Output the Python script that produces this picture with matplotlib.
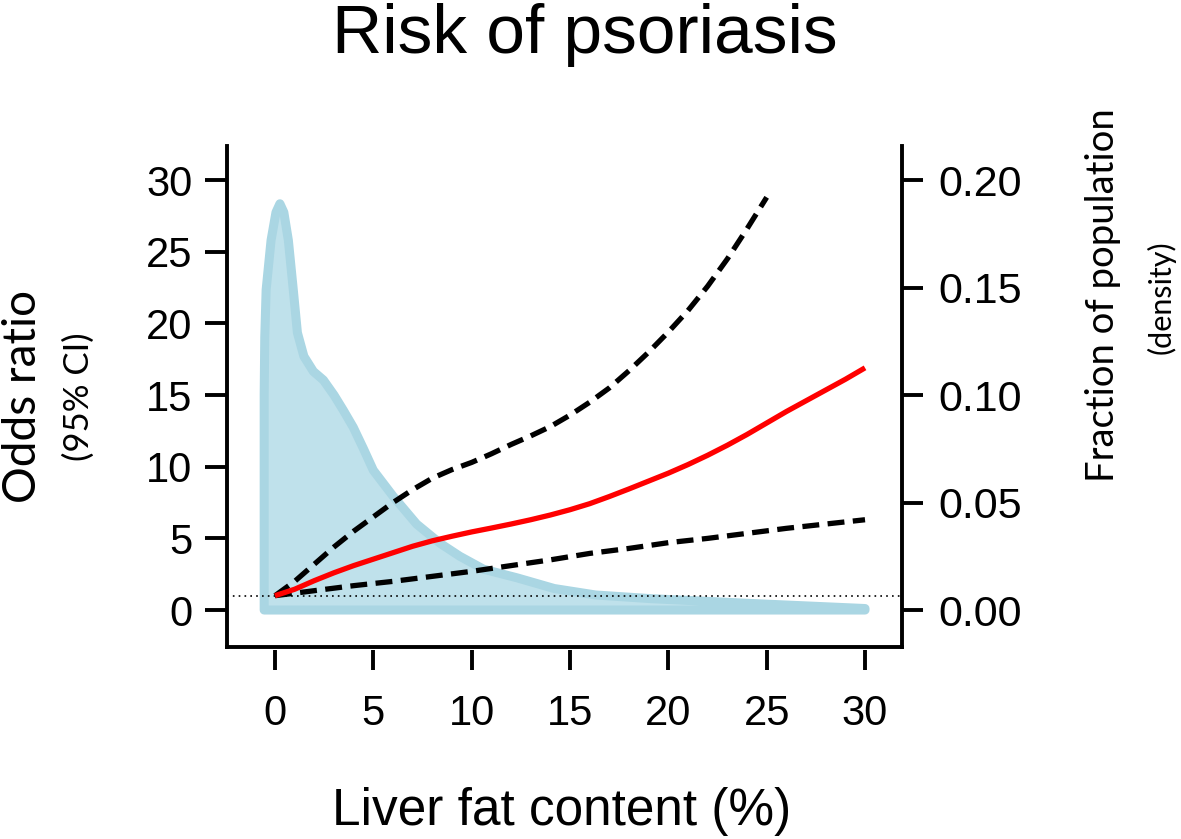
import matplotlib
matplotlib.use("Agg")
import matplotlib.pyplot as plt
import matplotlib.transforms as mtransforms

# liver fat content (%) grid for the fitted curves
x_fit = [0, 1, 2, 3, 4, 5, 6, 7, 8, 9, 10, 11, 12, 13, 14, 15, 16, 17, 18, 19,
         20, 21, 22, 23, 24, 25, 26, 27, 28, 29, 30]
or_est = [1.0, 1.45, 2.05, 2.6, 3.1, 3.55, 4.0, 4.45, 4.83, 5.15, 5.45, 5.72,
          6.0, 6.3, 6.63, 7.0, 7.42, 7.92, 8.45, 9.0, 9.55, 10.15, 10.8, 11.5,
          12.25, 13.05, 13.85, 14.6, 15.35, 16.1, 16.9]

x_upper = [0, 1, 2, 3, 4, 5, 6, 7, 8, 9, 10, 11, 12, 13, 14, 15, 16, 17, 18,
           19, 20, 21, 22, 23, 24, 25]
or_upper = [1.0, 2.0, 3.2, 4.4, 5.5, 6.5, 7.5, 8.4, 9.2, 9.8, 10.3, 10.9, 11.55,
            12.15, 12.8, 13.6, 14.5, 15.5, 16.7, 18.0, 19.4, 20.9, 22.6, 24.5,
            26.6, 28.8]

x_lower = [0, 2, 4, 6, 8, 10, 12, 14, 16, 18, 20, 22, 24, 26, 28, 30]
or_lower = [1.0, 1.35, 1.7, 2.0, 2.35, 2.7, 3.1, 3.5, 3.95, 4.3, 4.7, 5.0, 5.35,
            5.7, 6.0, 6.3]

# population density of liver fat
x_dens = [-0.55, -0.55, -0.52, -0.45, -0.2, 0.05, 0.25, 0.45, 0.68, 0.93, 1.14,
          1.47, 1.95, 2.46, 3.0, 3.47, 3.98, 4.5, 5.0, 6.0, 7.2, 8.4, 9.4, 10.6,
          12.3, 14.2, 16.3, 19.1, 24.1, 30.0, 30.0]
dens = [0.0, 0.100, 0.127, 0.149, 0.172, 0.185, 0.189, 0.185, 0.172, 0.149,
        0.129, 0.118, 0.111, 0.107, 0.100, 0.093, 0.085, 0.075, 0.065, 0.053,
        0.040, 0.031, 0.025, 0.019, 0.015, 0.010, 0.007, 0.0053, 0.0031,
        0.0007, 0.0]

or_ticks = [0, 5, 10, 15, 20, 25, 30]
dens_ticks = [0.00, 0.05, 0.10, 0.15, 0.20]
x_ticks = [0, 5, 10, 15, 20, 25, 30]

W, H = 1181, 839
fig = plt.figure(figsize=(W / 100, H / 100), dpi=100)
ax = fig.add_axes([227 / W, 1 - 647 / H, (902 - 227) / W, (647 - 146) / H])
ax2 = ax.twinx()

ylo, yhi = -2.58, 32.38
ax.set_xlim(-2.44, 31.88)
ax.set_ylim(ylo, yhi)
ax2.set_ylim(ylo / 150, yhi / 150)

ax.set_zorder(2)
ax2.set_zorder(1)
ax.patch.set_visible(False)

# spines first: set_position resets the tick settings
for s in ["top", "right"]:
    ax.spines[s].set_visible(False)
for s in ["top", "left", "bottom"]:
    ax2.spines[s].set_visible(False)
ax.spines["bottom"].set_position(("outward", 2.5))
ax.spines["bottom"].set_color("none")
ax.spines["left"].set_linewidth(2.8)
ax2.spines["right"].set_linewidth(2.8)
ax.plot([0, 1], [0, 0], transform=ax.transAxes, color="black", lw=2.8,
        clip_on=False, solid_capstyle="projecting")

# reference line at OR = 1 sits under the density polygon
tr = mtransforms.blended_transform_factory(ax2.transAxes, ax.transData)
ax2.plot([0, 1], [1, 1], transform=tr, color="black", lw=1.2,
         linestyle=(0, (1, 2.5)))

ax2.fill(x_dens, dens, facecolor="#bfe1eb", edgecolor="#aad6e3", lw=6.5,
         joinstyle="round")

dash = (0, (3.2, 1.6))
ax.plot(x_upper, or_upper, color="black", lw=3.8, linestyle=dash,
        dash_capstyle="butt")
ax.plot(x_lower, or_lower, color="black", lw=3.8, linestyle=dash,
        dash_capstyle="butt")
ax.plot(x_fit, or_est, color="#ff0000", lw=3.8, solid_capstyle="butt")

tick_font = "Liberation Sans"
ax.set_yticks(or_ticks)
ax.set_yticklabels([str(v) for v in or_ticks], fontsize=30, family=tick_font)
ax2.set_yticks(dens_ticks)
ax2.set_yticklabels(["%.2f" % v for v in dens_ticks], fontsize=31,
                    family=tick_font)
ax.set_xticks(x_ticks)
ax.set_xticklabels([str(v) for v in x_ticks], fontsize=30, family=tick_font)
ax.tick_params(axis="y", length=16, width=2.8, pad=9)
ax2.tick_params(axis="y", length=15, width=2.8, pad=11)
ax.tick_params(axis="x", length=14.5, width=2.8, pad=17)

fig.text(585 / W, 1 - 53 / H, "Risk of psoriasis", fontsize=50,
         family=tick_font, ha="center", va="baseline")
fig.text(562 / W, 1 - 825 / H, "Liver fat content (%)", fontsize=37,
         family=tick_font, ha="center", va="baseline")

lab_font = "Lato"
fig.text(23 / W, 1 - 397 / H, "Odds ratio", fontsize=33, family=lab_font,
         rotation=90, ha="center", va="center")
fig.text(79 / W, 1 - 397 / H, "(95% CI)", fontsize=25, family=lab_font,
         rotation=90, ha="center", va="center")
fig.text(1103 / W, 1 - 295 / H, "Fraction of population", fontsize=27.5,
         family=lab_font, rotation=90, ha="center", va="center")
fig.text(1161 / W, 1 - 297 / H, "(density)", fontsize=22, family=lab_font,
         rotation=90, ha="center", va="center")

fig.savefig("out.png", dpi=100)
